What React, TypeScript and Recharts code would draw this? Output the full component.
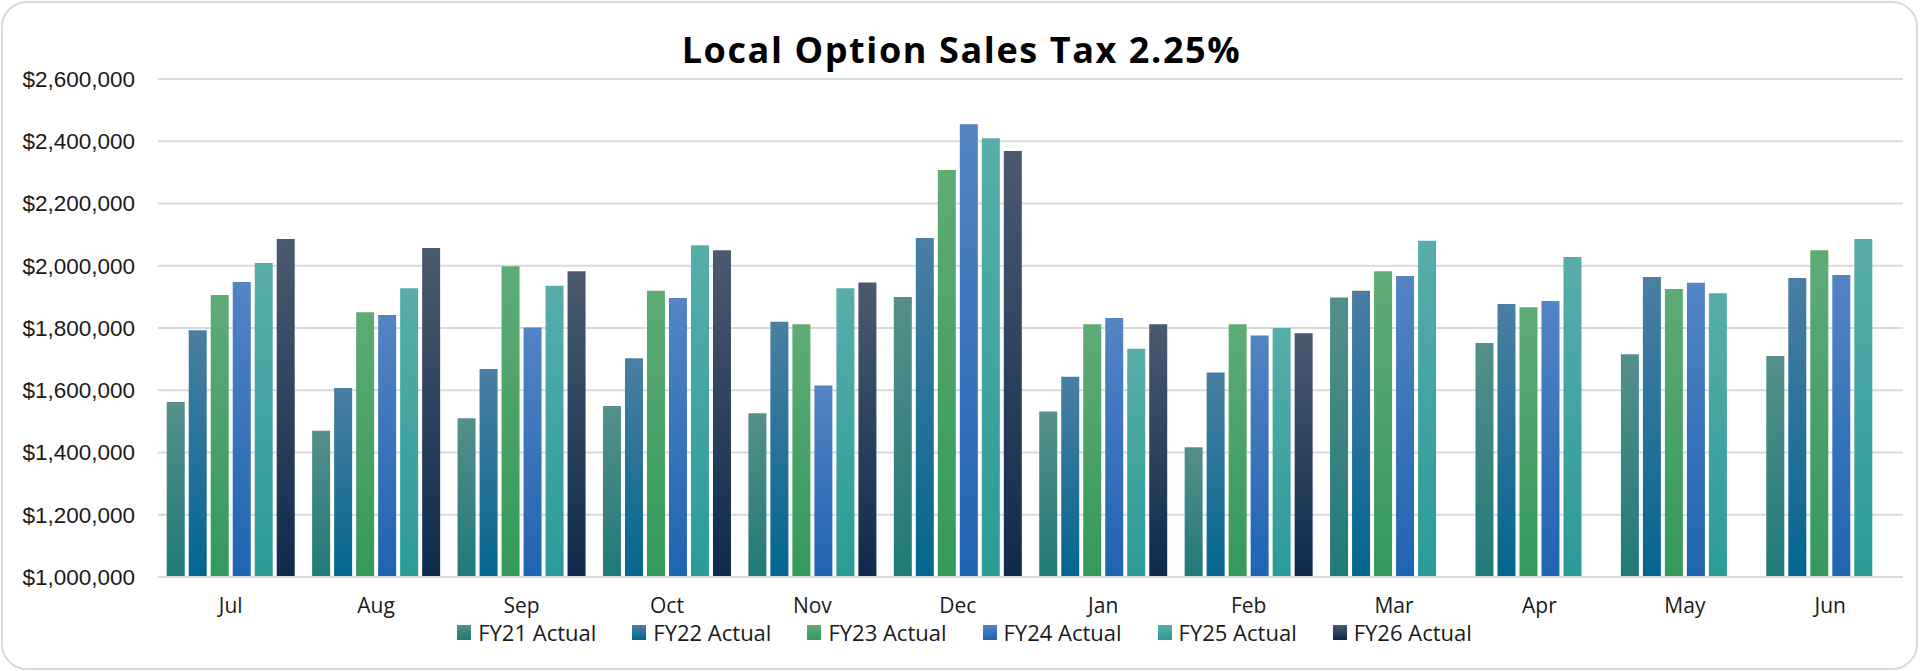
import React from 'react';
import { BarChart, Bar, XAxis, YAxis, CartesianGrid, Legend } from 'recharts';

const months = ['Jul', 'Aug', 'Sep', 'Oct', 'Nov', 'Dec', 'Jan', 'Feb', 'Mar', 'Apr', 'May', 'Jun'];

const fy21 = [1562000, 1470000, 1510000, 1549000, 1526000, 1900000, 1532000, 1417000, 1898000, 1752000, 1716000, 1710000];
const fy22 = [1793000, 1607000, 1668000, 1703000, 1820000, 2089000, 1643000, 1657000, 1920000, 1877000, 1964000, 1961000];
const fy23 = [1906000, 1851000, 1998000, 1920000, 1812000, 2308000, 1812000, 1812000, 1982000, 1867000, 1925000, 2050000];
const fy24 = [1948000, 1842000, 1802000, 1896000, 1615000, 2455000, 1832000, 1776000, 1967000, 1887000, 1945000, 1970000];
const fy25 = [2009000, 1928000, 1936000, 2066000, 1928000, 2410000, 1733000, 1800000, 2080000, 2028000, 1912000, 2086000];
const fy26 = [2086000, 2057000, 1982000, 2050000, 1946000, 2369000, 1812000, 1783000, null, null, null, null];

const yTicks = [1000000, 1200000, 1400000, 1600000, 1800000, 2000000, 2200000, 2400000, 2600000];

const seriesNames = ['FY21 Actual', 'FY22 Actual', 'FY23 Actual', 'FY24 Actual', 'FY25 Actual', 'FY26 Actual'];
const seriesKeys = ['fy21', 'fy22', 'fy23', 'fy24', 'fy25', 'fy26'];
// [top, bottom] of each bar's gradient
const seriesColors = [
  ['#558f8b', '#1f7a77'],
  ['#4a7fa2', '#03668f'],
  ['#5fab76', '#33995a'],
  ['#5384c4', '#1e64b0'],
  ['#58adaa', '#2a9b97'],
  ['#4a5a70', '#0e2a4c'],
];

const data = months.map((m, i) => ({
  month: m,
  fy21: fy21[i],
  fy22: fy22[i],
  fy23: fy23[i],
  fy24: fy24[i],
  fy25: fy25[i],
  fy26: fy26[i],
}));

const fmt = (v: number) => '$' + v.toLocaleString('en-US');

const renderLegend = () => (
  <div style={{ display: 'flex', justifyContent: 'center', gap: 36, height: 24, alignItems: 'center', paddingLeft: 6 }}>
    {seriesNames.map((name, i) => (
      <div key={name} style={{ display: 'flex', alignItems: 'center', gap: 7 }}>
        <div
          style={{
            width: 14,
            height: 15,
            background: `linear-gradient(${seriesColors[i][0]}, ${seriesColors[i][1]})`,
          }}
        />
        <span style={{ fontFamily: '"Open Sans", sans-serif', fontSize: 22, lineHeight: '18px', color: '#1a1a1a' }}>
          {name}
        </span>
      </div>
    ))}
  </div>
);

const App: React.FC = () => {
  return (
    <div style={{ position: 'absolute', left: 0, top: 0, width: 1923, height: 671, background: '#fff' }}>
      <div
        style={{
          position: 'absolute',
          left: 1,
          top: 1,
          width: 1917,
          height: 669,
          border: '2px solid #d9d9d9',
          borderRadius: 26,
          boxSizing: 'border-box',
        }}
      />
      <div
        style={{
          position: 'absolute',
          left: 0,
          top: 27,
          width: 1923,
          textAlign: 'center',
          fontFamily: '"Open Sans", sans-serif',
          fontWeight: 700,
          fontSize: 36,
          letterSpacing: 1.6,
          lineHeight: '45px',
          color: '#000',
        }}
      >
        Local Option Sales Tax 2.25%
      </div>
      <div style={{ position: 'absolute', left: 0, top: 0 }}>
        <BarChart
          width={1923}
          height={671}
          data={data}
          margin={{ top: 79, right: 20, bottom: 30, left: 0 }}
          barCategoryGap="6%"
          barGap={4}
        >
          <defs>
            {seriesColors.map((c, i) => (
              <linearGradient key={i} id={`grad${i}`} x1="0" y1="0" x2="0" y2="1">
                <stop offset="0%" stopColor={c[0]} />
                <stop offset="100%" stopColor={c[1]} />
              </linearGradient>
            ))}
          </defs>
          <CartesianGrid vertical={false} stroke="#d9d9d9" strokeWidth={2} />
          <XAxis
            dataKey="month"
            height={40}
            tickSize={0}
            tickMargin={21}
            axisLine={{ stroke: '#d9d9d9', strokeWidth: 2 }}
            tick={{ fontFamily: '"Open Sans", sans-serif', fontSize: 21, fill: '#1a1a1a' }}
          />
          <YAxis
            width={158}
            domain={[1000000, 2600000]}
            ticks={yTicks}
            allowDataOverflow
            tickSize={0}
            tickMargin={23}
            axisLine={false}
            tickFormatter={fmt}
            tick={{ fontFamily: '"Liberation Sans", Arial, sans-serif', fontSize: 22.5, fill: '#1a1a1a' }}
          />
          <Legend
            verticalAlign="bottom"
            content={renderLegend}
            wrapperStyle={{ top: 620, bottom: 'auto', left: 0, width: 1923 }}
          />
          {seriesKeys.map((k, i) => (
            <Bar key={k} dataKey={k} name={seriesNames[i]} fill={`url(#grad${i})`} isAnimationActive={false} />
          ))}
        </BarChart>
      </div>
    </div>
  );
};

export default App;
